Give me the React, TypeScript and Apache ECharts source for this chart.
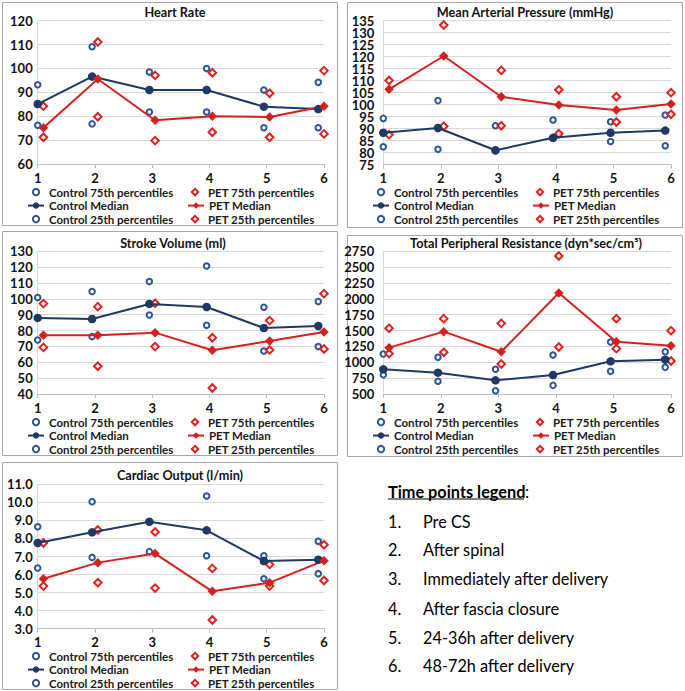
import React, { useEffect, useRef } from "react";
import * as echarts from "echarts";

// x positions (Excel-style jitter) of the two groups at time points 1..6
const controlX = [1, 1.95, 2.95, 3.95, 4.95, 5.9];
const petX = [1.1, 2.05, 3.05, 4.05, 5.05, 6];

// Heart Rate
const hrControl75 = [93.2, 109.1, 98.5, 100, 91, 94.2];
const hrControlMed = [85.1, 96.6, 91, 91, 84, 83];
const hrControl25 = [76.2, 76.8, 81.8, 81.8, 75.2, 75.2];
const hrPet75 = [84.2, 111.1, 97.1, 98.2, 89.6, 99.1];
const hrPetMed = [75.2, 95.6, 78.3, 80, 79.7, 84.2];
const hrPet25 = [71.2, 79.8, 69.8, 73.3, 71.2, 72.6];

// Mean Arterial Pressure
const mapControl75 = [94.3, 101.7, 91.2, 93.6, 92.9, 95.7];
const mapControlMed = [88.3, 90.3, 81, 86.2, 88.3, 89.2];
const mapControl25 = [82.5, 81.4, 80.8, 86, 84.7, 82.9];
const mapPet75 = [110.1, 133.2, 114.3, 106.2, 103.3, 105];
const mapPetMed = [106.4, 120.3, 103.3, 99.9, 97.8, 100.3];
const mapPet25 = [87.5, 91, 91.2, 87.9, 92.8, 96];
// MAP tick labels (drawn on two label-only axes so none is dropped)
const mapLabelsOdd = [75, 85, 95, 105, 115, 125, 135];
const mapLabelsEven = [80, 90, 100, 110, 120, 130];

// Stroke Volume
const svControl75 = [100.8, 104.6, 110.9, 120.7, 94.7, 98.3];
const svControlMed = [88, 87.3, 96.8, 94.9, 81.6, 82.9];
const svControl25 = [74.1, 76.2, 89.8, 83.3, 67.1, 69.9];
const svPet75 = [97, 95.1, 97.2, 75.5, 86.3, 103.3];
const svPetMed = [77, 77, 78.7, 67.6, 73.4, 79.1];
const svPet25 = [69.4, 57.5, 69.9, 43.8, 67.8, 68.4];

// Total Peripheral Resistance
const tprControl75 = [1131, 1078, 889, 1115, 1320, 1167];
const tprControlMed = [889, 836, 715, 799, 1015, 1041];
const tprControl25 = [805, 700, 552, 636, 857, 920];
const tprPet75 = [1536, 1688, 1614, 2676, 1688, 1499];
const tprPetMed = [1231, 1483, 1167, 2093, 1325, 1262];
const tprPet25 = [1136, 1157, 973, 1241, 1215, 1020];

// Cardiac Output
const coControl75 = [8.65, 10.04, 8.9, 10.35, 7.04, 7.84];
const coControlMed = [7.75, 8.34, 8.93, 8.45, 6.75, 6.82];
const coControl25 = [6.36, 6.95, 7.27, 7.04, 5.77, 6.05];
const coPet75 = [7.75, 8.47, 8.36, 6.34, 6.56, 7.65];
const coPetMed = [5.77, 6.66, 7.16, 5.07, 5.55, 6.77];
const coPet25 = [5.36, 5.55, 5.25, 3.48, 5.36, 5.67];

const panelTitles = [
  "Heart Rate",
  "Mean Arterial Pressure (mmHg)",
  "Stroke Volume (ml)",
  "Total Peripheral Resistance (dyn*sec/cm\u2075)",
  "Cardiac Output (l/min)",
];
const yMins = [60, 75, 40, 500, 3];
const yMaxs = [120, 135, 130, 2750, 11];
const yIntervals = [10, 5, 10, 250, 1];
const yDecimals = [0, 0, 0, 0, 1];

const seriesNames = [
  "Control 75th percentiles",
  "PET 75th percentiles",
  "Control Median",
  "PET Median",
  "Control 25th percentiles",
  "PET 25th percentiles",
];

const timePointsTitle = "Time points legend";
const timePoints = [
  "Pre CS",
  "After spinal",
  "Immediately after delivery",
  "After fascia closure",
  "24-36h after delivery",
  "48-72h after delivery",
];

const panelData = [
  [hrControl75, hrControlMed, hrControl25, hrPet75, hrPetMed, hrPet25],
  [mapControl75, mapControlMed, mapControl25, mapPet75, mapPetMed, mapPet25],
  [svControl75, svControlMed, svControl25, svPet75, svPetMed, svPet25],
  [tprControl75, tprControlMed, tprControl25, tprPet75, tprPetMed, tprPet25],
  [coControl75, coControlMed, coControl25, coPet75, coPetMed, coPet25],
];

// layout (pixels)
const layout = [
  { box: [2, 2, 335, 223], grid: [37.7, 20.7, 286.3, 143.3], titleX: 175, titleY: 12, legendX: 27, legendY: 185.3, labelMargin: 5, splitLabels: false },
  { box: [347, 2, 335, 225], grid: [383.3, 20.7, 287.7, 144], titleX: 525, titleY: 12, legendX: 372, legendY: 185.3, labelMargin: 9, splitLabels: true },
  { box: [2, 231, 335, 224], grid: [37.7, 251.3, 286.3, 142.7], titleX: 173, titleY: 243, legendX: 27, legendY: 415.3, labelMargin: 5, splitLabels: false },
  { box: [347, 235, 335, 221], grid: [383.3, 251.3, 287.7, 142.7], titleX: 526, titleY: 243, legendX: 372, legendY: 415.3, labelMargin: 9, splitLabels: false },
  { box: [2, 462, 335, 227], grid: [37.7, 484.3, 286.3, 144.4], titleX: 180, titleY: 475, legendX: 27, legendY: 649.3, labelMargin: 5, splitLabels: false },
];

const FONT = "Lato";
const NAVY = "#1F3864";
const BLUE = "#2F5597";
const RED = "#E0201E";
const GRID = "#D9D9D9";

function pts(xs: number[], ys: number[]) {
  return xs.map((x, i) => [x, ys[i]]);
}

export default function App() {
  const ref = useRef<HTMLDivElement>(null);
  useEffect(() => {
    if (!ref.current) return;
    const chart = echarts.init(ref.current, null, { renderer: "svg" });

    const grids: any[] = [];
    const xAxes: any[] = [];
    const yAxes: any[] = [];
    const extraY: any[] = [];
    const series: any[] = [];
    const legends: any[] = [];
    const graphics: any[] = [];

    const yLabelStyle = (margin: number, dec: number) => ({
      margin,
      fontFamily: FONT,
      fontWeight: "bold",
      fontSize: 13,
      lineHeight: 11,
      color: "#111",
      showMinLabel: true,
      showMaxLabel: true,
      hideOverlap: false,
      formatter: (v: number) => v.toFixed(dec),
    });

    layout.forEach((L, i) => {
      const [gl, gt, gw, gh] = L.grid;
      grids.push({ left: gl, top: gt, width: gw, height: gh, containLabel: false });
      xAxes.push({
        type: "value",
        gridIndex: i,
        min: 1,
        max: 6,
        interval: 1,
        axisLine: { show: true, lineStyle: { color: "#BFBFBF", width: 1 } },
        axisTick: { show: true, length: 4, lineStyle: { color: "#BFBFBF" } },
        splitLine: { show: false },
        axisLabel: {
          margin: 7,
          fontFamily: FONT,
          fontWeight: "bold",
          fontSize: 13,
          color: "#111",
          showMinLabel: true,
          showMaxLabel: true,
          hideOverlap: false,
        },
      });
      yAxes.push({
        type: "value",
        gridIndex: i,
        min: yMins[i],
        max: yMaxs[i],
        interval: yIntervals[i],
        axisLine: { show: true, lineStyle: { color: GRID, width: 1 } },
        axisTick: { show: false },
        splitLine: { show: true, lineStyle: { color: GRID, width: 1 } },
        axisLabel: L.splitLabels ? { show: false } : yLabelStyle(L.labelMargin, yDecimals[i]),
      });
      if (L.splitLabels) {
        [mapLabelsOdd, mapLabelsEven].forEach((vals) => {
          extraY.push({
            type: "value",
            gridIndex: i,
            position: "left",
            min: yMins[i],
            max: yMaxs[i],
            interval: 10,
            axisLine: { show: false },
            axisTick: { show: false },
            splitLine: { show: false },
            axisLabel: { ...yLabelStyle(L.labelMargin, yDecimals[i]), customValues: vals },
          });
        });
      }
      const [c75, cMed, c25, p75, pMed, p25] = panelData[i];
      const pct = (name: string, xs: number[], ys: number[], sym: string, size: number, color: string) => ({
        name,
        type: "line",
        xAxisIndex: i,
        yAxisIndex: i,
        data: pts(xs, ys),
        symbol: sym,
        symbolSize: size,
        showSymbol: true,
        clip: false,
        lineStyle: { width: 0, opacity: 0 },
        itemStyle: { color, borderWidth: 1.2 },
        z: 2,
      });
      const med = (name: string, xs: number[], ys: number[], sym: string, size: number, color: string) => ({
        name,
        type: "line",
        xAxisIndex: i,
        yAxisIndex: i,
        data: pts(xs, ys),
        symbol: sym,
        symbolSize: size,
        clip: false,
        lineStyle: { width: 2, color },
        itemStyle: { color },
        z: 3,
      });
      series.push(pct(seriesNames[0], controlX, c75, "emptyCircle", 5.5, BLUE));
      series.push(pct(seriesNames[4], controlX, c25, "emptyCircle", 5.5, BLUE));
      series.push(pct(seriesNames[1], petX, p75, "emptyDiamond", 7.5, RED));
      series.push(pct(seriesNames[5], petX, p25, "emptyDiamond", 7.5, RED));
      series.push(med(seriesNames[2], controlX, cMed, "circle", 8.5, NAVY));
      series.push(med(seriesNames[3], petX, pMed, "diamond", 9.5, "#D42020"));

      legends.push({
        left: L.legendX,
        top: L.legendY,
        width: 330,
        orient: "horizontal",
        padding: 0,
        itemGap: 0,
        itemWidth: 16,
        itemHeight: 8,
        selectedMode: false,
        data: seriesNames,
        textStyle: {
          fontFamily: FONT,
          fontSize: 11.5,
          fontWeight: "bold",
          color: "#1A1A1A",
          width: 138,
          lineHeight: 13.5,
        },
      });

      const [bx, by, bw, bh] = L.box;
      graphics.push({
        type: "rect",
        shape: { x: bx + 0.5, y: by + 0.5, width: bw, height: bh },
        style: { fill: "none", stroke: "#A6A6A6", lineWidth: 1 },
        silent: true,
        z: 0,
      });
      graphics.push({
        type: "text",
        x: L.titleX,
        y: L.titleY,
        style: {
          text: panelTitles[i],
          fontFamily: FONT,
          fontSize: 12.7,
          fontWeight: "bold",
          fill: "#111",
          align: "center",
          verticalAlign: "middle",
        },
      });
    });

    // time points legend
    graphics.push({
      type: "text",
      x: 388,
      y: 491,
      style: {
        text: timePointsTitle,
        fontFamily: FONT,
        fontSize: 16.3,
        fontWeight: "bold",
        fill: "#000",
        verticalAlign: "middle",
      },
    });
    graphics.push({
      type: "text",
      x: 525,
      y: 491,
      style: { text: ":", fontFamily: FONT, fontSize: 16.3, fill: "#000", verticalAlign: "middle" },
    });
    graphics.push({
      type: "line",
      shape: { x1: 388, y1: 499, x2: 524, y2: 499 },
      style: { stroke: "#000", lineWidth: 1.2 },
    });
    const rowY = [521, 549, 578, 608, 637, 665];
    timePoints.forEach((t, k) => {
      graphics.push({
        type: "text",
        x: 388,
        y: rowY[k],
        style: { text: `${k + 1}.`, fontFamily: FONT, fontSize: 16.3, fill: "#000", verticalAlign: "middle" },
      });
      graphics.push({
        type: "text",
        x: 423,
        y: rowY[k],
        style: { text: t, fontFamily: FONT, fontSize: 16.3, fill: "#000", verticalAlign: "middle" },
      });
    });

    chart.setOption({
      animation: false,
      backgroundColor: "#fff",
      grid: grids,
      xAxis: xAxes,
      yAxis: [...yAxes, ...extraY],
      legend: legends,
      series,
      graphic: graphics,
    });
    return () => chart.dispose();
  }, []);
  return (
    <div
      ref={ref}
      style={{ position: "fixed", left: 0, top: 0, width: 685, height: 691, background: "#fff" }}
    />
  );
}
